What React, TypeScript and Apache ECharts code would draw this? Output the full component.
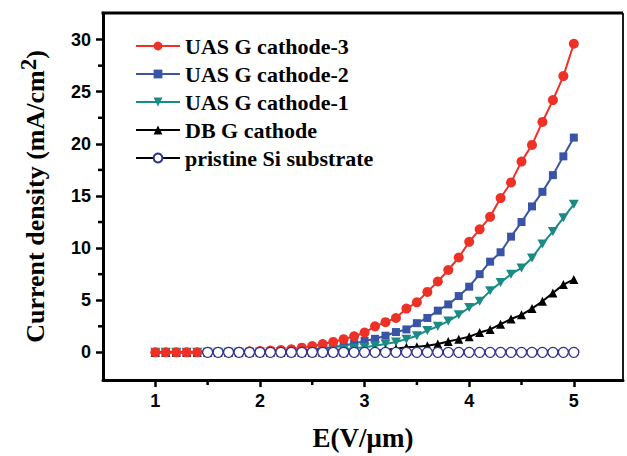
import React, { useEffect, useRef } from "react";
import * as echarts from "echarts";

const E = [1.0, 1.1, 1.2, 1.3, 1.4, 1.5, 1.6, 1.7, 1.8, 1.9, 2.0, 2.1, 2.2, 2.3, 2.4, 2.5, 2.6, 2.7, 2.8, 2.9, 3.0, 3.1, 3.2, 3.3, 3.4, 3.5, 3.6, 3.7, 3.8, 3.9, 4.0, 4.1, 4.2, 4.3, 4.4, 4.5, 4.6, 4.7, 4.8, 4.9, 5.0];

const uas3 = [0, 0, 0, 0, 0, 0.02, 0.03, 0.05, 0.07, 0.1, 0.13, 0.17, 0.22, 0.3, 0.45, 0.6, 0.8, 1.0, 1.27, 1.55, 1.9, 2.5, 2.9, 3.3, 4.2, 4.8, 5.8, 6.8, 7.9, 9.1, 10.6, 11.8, 13.0, 14.8, 16.3, 18.3, 19.9, 22.1, 24.2, 26.5, 29.6];
const uas2 = [0, 0, 0, 0, 0, 0.01, 0.01, 0.02, 0.02, 0.03, 0.04, 0.06, 0.1, 0.14, 0.2, 0.28, 0.38, 0.5, 0.65, 0.85, 1.1, 1.3, 1.6, 1.95, 2.2, 2.8, 3.3, 4.0, 4.6, 5.4, 6.3, 7.5, 8.7, 9.6, 11.1, 12.5, 14.0, 15.4, 17.0, 18.8, 20.6];
const uas1 = [0, 0, 0, 0, 0, 0, 0, 0.01, 0.01, 0.02, 0.03, 0.04, 0.05, 0.07, 0.09, 0.12, 0.16, 0.22, 0.3, 0.4, 0.5, 0.64, 0.8, 1.0, 1.27, 1.6, 2.1, 2.5, 3.0, 3.6, 4.3, 4.9, 5.9, 6.7, 7.5, 8.1, 9.05, 10.4, 11.6, 12.9, 14.2];
const dbg = [0, 0, 0, 0, 0, 0, 0, 0, 0, 0, 0, 0, 0, 0, 0.01, 0.01, 0.02, 0.02, 0.03, 0.05, 0.1, 0.15, 0.25, 0.35, 0.48, 0.55, 0.64, 0.8, 1.05, 1.27, 1.5, 1.9, 2.2, 2.7, 3.2, 3.6, 4.2, 4.9, 5.7, 6.5, 7.0];
const pristine = [null, null, null, null, null, 0, 0, 0, 0, 0, 0, 0, 0, 0, 0, 0, 0, 0, 0, 0, 0, 0, 0, 0, 0, 0, 0, 0, 0, 0, 0, 0, 0, 0, 0, 0, 0, 0, 0, 0, 0];

const seriesNames = ["UAS G cathode-3", "UAS G cathode-2", "UAS G cathode-1", "DB G cathode", "pristine Si substrate"];
const xTicks = [1, 2, 3, 4, 5];
const xMinorTicks = [1.5, 2.5, 3.5, 4.5];
const yTicks = [0, 5, 10, 15, 20, 25, 30];
const yMinorTicks = [2.5, 7.5, 12.5, 17.5, 22.5, 27.5];

const downTriangle = "path://M0,0 L20,0 L10,18 Z";

function pairs(vals: (number | null)[]) {
  return E.map((x, i) => [x, vals[i]]);
}

export default function App() {
  const ref = useRef<HTMLDivElement>(null);
  useEffect(() => {
    if (!ref.current) return;
    const chart = echarts.init(ref.current, null, { renderer: "svg" });
    const X_MIN = 0.5;
    const X_MAX = 5.47;
    const Y_MIN = -2.65;
    const Y_MAX = 32.55;
    const tickFont = {
      fontFamily: "Liberation Sans",
      fontWeight: "bold" as const,
      fontSize: 18,
      color: "#000",
    };
    const mk = (name: string, data: any, color: string, symbol: string, size: number) => ({
      name,
      type: "line",
      data,
      symbol,
      symbolSize: size,
      symbolKeepAspect: true,
      showAllSymbol: true,
      lineStyle: { color, width: 2 },
      itemStyle: { color },
    });
    const pristinePts = pairs(pristine).filter((p) => p[1] !== null);
    chart.setOption({
      animation: false,
      backgroundColor: "#fff",
      grid: { left: 103, top: 13, right: 4, bottom: 73, containLabel: false },
      legend: {
        orient: "vertical",
        left: 130,
        top: 30,
        itemWidth: 44,
        itemHeight: 11,
        itemGap: 6,
        textStyle: {
          fontFamily: "Liberation Serif",
          fontWeight: "bold",
          fontSize: 22,
          lineHeight: 22,
          color: "#000",
        },
        data: seriesNames,
      },
      xAxis: {
        type: "value",
        position: "bottom",
        min: X_MIN,
        max: X_MAX,
        name: "E(V/\u03bcm)",
        nameLocation: "middle",
        nameGap: 44,
        nameTextStyle: {
          fontFamily: "Liberation Serif",
          fontWeight: "bold",
          fontSize: 27,
          color: "#000",
        },
        axisLine: { show: true, onZero: false, lineStyle: { color: "#000", width: 3 } },
        axisTick: { show: true, customValues: xTicks, length: 7, lineStyle: { color: "#000", width: 2.5 } },
        axisLabel: { show: true, customValues: xTicks, margin: 12, ...tickFont },
        splitLine: { show: false },
      },
      yAxis: {
        type: "value",
        position: "left",
        min: Y_MIN,
        max: Y_MAX,
        name: "Current density (mA/cm{sup|2})",
        nameLocation: "middle",
        nameGap: 50,
        nameRotate: 90,
        nameTextStyle: {
          fontFamily: "Liberation Serif",
          fontWeight: "bold",
          fontSize: 26,
          color: "#000",
          lineHeight: 36,
          rich: {
            sup: {
              fontFamily: "Liberation Serif",
              fontWeight: "bold",
              fontSize: 23,
              color: "#000",
              verticalAlign: "top",
              lineHeight: 36,
              padding: [0, 0, 14, 0],
            },
          },
        },
        axisLine: { show: true, onZero: false, lineStyle: { color: "#000", width: 3 } },
        axisTick: { show: true, customValues: yTicks, length: 7, lineStyle: { color: "#000", width: 2.5 } },
        axisLabel: { show: true, customValues: yTicks, margin: 12, ...tickFont },
        splitLine: { show: false },
      },
      series: [
        mk(seriesNames[1], pairs(uas2), "#3a54a5", "rect", 8),
        mk(seriesNames[2], pairs(uas1), "#1b8a84", downTriangle, 10),
        mk(seriesNames[3], pairs(dbg), "#000000", "triangle", 9),
        mk(seriesNames[0], pairs(uas3), "#ee3127", "circle", 10),
        {
          name: seriesNames[4],
          type: "line",
          data: pairs(pristine),
          symbol: "circle",
          symbolSize: 10,
          showAllSymbol: true,
          lineStyle: { color: "#000", width: 1.5 },
          itemStyle: { color: "#ffffff", borderColor: "#2e3192", borderWidth: 1.3 },
        },
        {
          // filled lower half of the pristine markers
          type: "custom",
          silent: true,
          clip: false,
          data: pristinePts,
          renderItem: (params: any, api: any) => {
            const p = api.coord([api.value(0), api.value(1)]);
            return {
              type: "sector",
              shape: { cx: p[0], cy: p[1], r0: 0, r: 4.4, startAngle: 0, endAngle: Math.PI, clockwise: true },
              style: { fill: "#2e3192" },
            };
          },
        },
        {
          // box top & right edges and minor ticks, placed through the axis scales
          type: "custom",
          silent: true,
          clip: false,
          data: [[X_MIN, Y_MIN]],
          renderItem: (params: any, api: any) => {
            const tl = api.coord([X_MIN, Y_MAX]);
            const tr = api.coord([X_MAX, Y_MAX]);
            const br = api.coord([X_MAX, Y_MIN]);
            const bl = api.coord([X_MIN, Y_MIN]);
            const children: any[] = [
              { type: "line", shape: { x1: tl[0] - 1.5, y1: tl[1], x2: tr[0], y2: tr[1] }, style: { stroke: "#000", lineWidth: 3 } },
              { type: "line", shape: { x1: tr[0], y1: tr[1], x2: br[0], y2: br[1] + 1.5 }, style: { stroke: "#000", lineWidth: 1.8 } },
            ];
            xMinorTicks.forEach((v) => {
              const p = api.coord([v, Y_MIN]);
              children.push({ type: "line", shape: { x1: p[0], y1: bl[1], x2: p[0], y2: bl[1] + 5 }, style: { stroke: "#000", lineWidth: 2.5 } });
            });
            yMinorTicks.forEach((v) => {
              const p = api.coord([X_MIN, v]);
              children.push({ type: "line", shape: { x1: bl[0], y1: p[1], x2: bl[0] - 5, y2: p[1] }, style: { stroke: "#000", lineWidth: 2.5 } });
            });
            return { type: "group", children };
          },
        },
      ],
    });
    return () => chart.dispose();
  }, []);
  return (
    <div
      ref={ref}
      style={{ position: "absolute", left: 0, top: 0, width: 627, height: 456 }}
    />
  );
}
